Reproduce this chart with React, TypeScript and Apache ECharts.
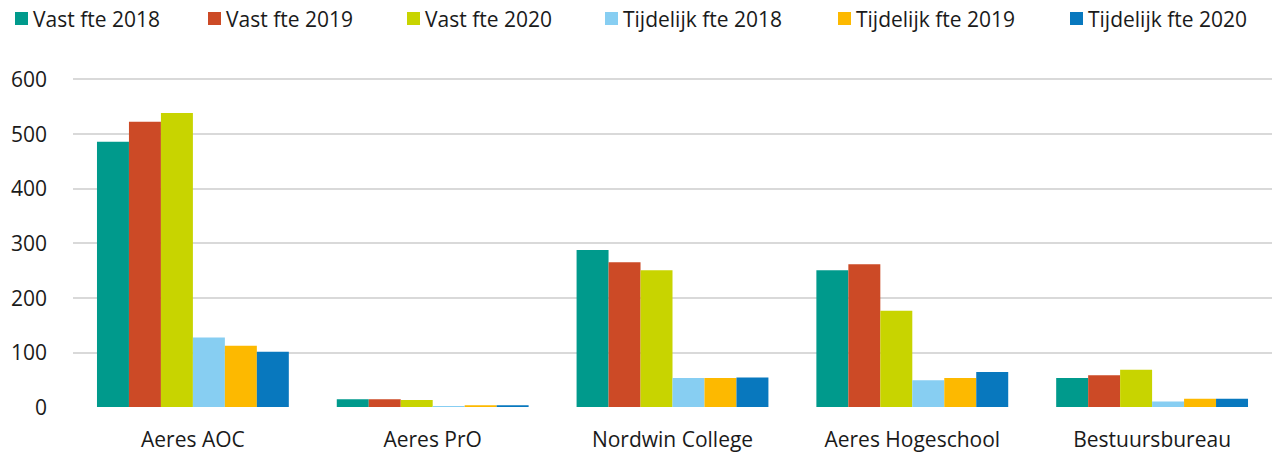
import React, { useEffect, useRef } from "react";
import * as echarts from "echarts";

const categories = ["Aeres AOC", "Aeres PrO", "Nordwin College", "Aeres Hogeschool", "Bestuursbureau"];
const seriesNames = [
  "Vast fte 2018",
  "Vast fte 2019",
  "Vast fte 2020",
  "Tijdelijk fte 2018",
  "Tijdelijk fte 2019",
  "Tijdelijk fte 2020",
];
const vast2018 = [485, 14, 287, 250, 53];
const vast2019 = [522, 14, 265, 261, 58];
const vast2020 = [538, 13, 250, 176, 68];
const tijdelijk2018 = [127, 2, 53, 49, 10];
const tijdelijk2019 = [112, 3, 53, 53, 15];
const tijdelijk2020 = [101, 3, 54, 64, 15];
const yTicks = [0, 100, 200, 300, 400, 500, 600];

const seriesValues = [vast2018, vast2019, vast2020, tijdelijk2018, tijdelijk2019, tijdelijk2020];
const colors = ["#009A8C", "#CC4A26", "#C8D400", "#87CEF2", "#FDB900", "#0878BE"];
const legendLefts = [15, 208, 407, 605, 838, 1070];

const FONT = "Open Sans";

export default function App() {
  const ref = useRef<HTMLDivElement>(null);
  useEffect(() => {
    document.body.style.margin = "0";
    if (!ref.current) return;
    const chart = echarts.init(ref.current, undefined, { renderer: "svg" });
    chart.setOption({
      animation: false,
      textStyle: { fontFamily: FONT },
      legend: seriesNames.map((n, i) => ({
        data: [n],
        left: legendLefts[i],
        top: 8,
        icon: "rect",
        itemWidth: 13,
        itemHeight: 13,
        padding: 0,
        textStyle: { fontFamily: FONT, fontSize: 21, color: "#1a1a1a" },
      })),
      grid: { left: 73, right: 14, top: 79, bottom: 50, containLabel: false },
      xAxis: {
        type: "category",
        data: categories,
        axisLine: { show: false },
        axisTick: { show: false },
        axisLabel: { fontFamily: FONT, fontSize: 21, color: "#1a1a1a", margin: 21 },
      },
      yAxis: {
        type: "value",
        min: yTicks[0],
        max: yTicks[yTicks.length - 1],
        interval: 100,
        axisLine: { show: false },
        axisTick: { show: false },
        axisLabel: { fontFamily: FONT, fontSize: 21, color: "#1a1a1a", margin: 26 },
        splitLine: {
          lineStyle: {
            color: ["rgba(0,0,0,0)", "#D9D9D9", "#D9D9D9", "#D9D9D9", "#D9D9D9", "#D9D9D9", "#D9D9D9"],
            width: 2,
          },
        },
      },
      series: seriesNames.map((n, i) => ({
        name: n,
        type: "bar",
        data: seriesValues[i],
        barGap: "0%",
        barCategoryGap: "20%",
        itemStyle: { color: colors[i] },
      })),
    });
    return () => chart.dispose();
  }, []);
  return <div ref={ref} style={{ width: 1286, height: 457 }} />;
}
